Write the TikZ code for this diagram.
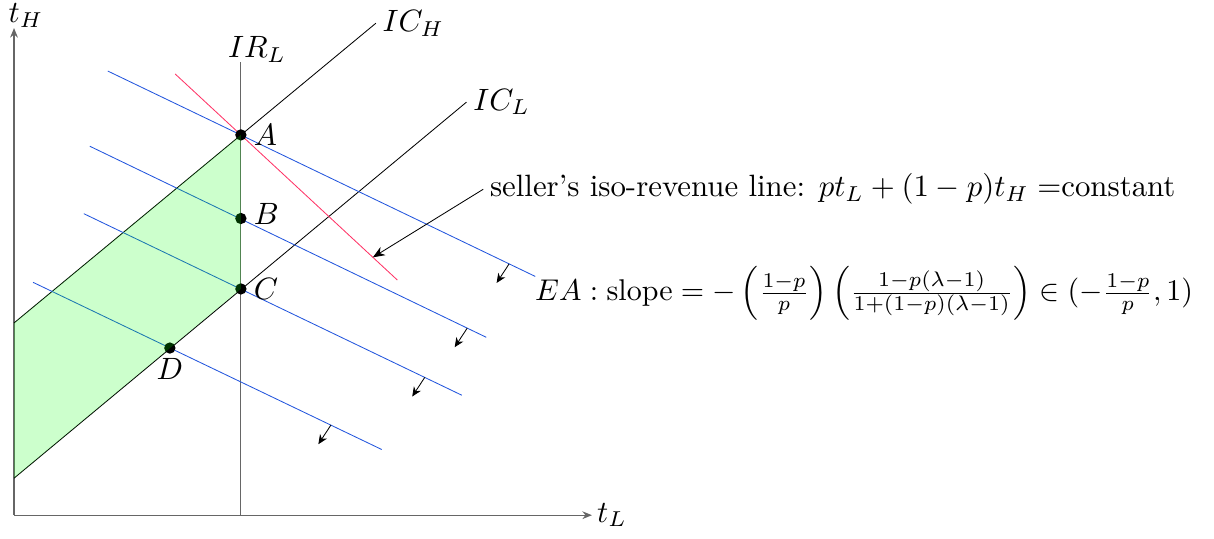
\documentclass[tikz,border=0pt]{standalone}
\usepackage{amsmath}
\usepackage{xcolor}
\usetikzlibrary{arrows.meta,positioning,calc}
\definecolor{IsoBlue}{HTML}{2255DD}
\definecolor{IsoRed}{HTML}{FF3366}
\definecolor{AxisGray}{HTML}{666666}

\begin{document}
\begin{tikzpicture}[
  lbl/.style={scale=1.47, transform shape},
  axis/.style={-{Stealth[length=1.6mm,width=1.3mm]}, AxisGray, semithick},
  icline/.style={black},
  irline/.style={AxisGray},
  isoline/.style={IsoBlue},
  revline/.style={IsoRed},
  shiftarrow/.style={-{Stealth[length=1.6mm,width=1.4mm]}, black},
  pointer/.style={-{Stealth[length=2mm,width=1.6mm]}, black},
  dot/.style={circle, fill=black, inner sep=0pt, minimum size=1.9mm}
]
  \useasboundingbox (-0.235,-0.385) rectangle (20.10,8.63);

  % axes
  \coordinate (O) at (0,0);
  \coordinate (xend) at (9.68,0);
  \coordinate (yend) at (0,8.16);
  \draw[axis] (O) -- (xend);
  \draw[axis] (O) -- (yend);
  \node[lbl, anchor=west, inner sep=1.5pt] (tl) at (xend) {$t_L$};
  \node[lbl, inner sep=1pt] (th) at (0.20,8.37) {$t_H$};

  % contract points
  \coordinate (A) at (3.8,6.37);
  \coordinate (B) at (3.8,4.97);
  \coordinate (C) at (3.8,3.79);
  \coordinate (D) at (2.61,2.80);

  % participation and incentive constraints
  \coordinate (irl0) at (3.8,0);
  \coordinate (irl1) at (3.8,7.59);
  \draw[irline] (irl0) -- (irl1);
  \node[lbl] (irlab) at (4.07,7.80) {$IR_L$};

  \coordinate (ich0) at (0,3.22);
  \coordinate (ich1) at (6.06,8.24);
  \draw[icline] (ich0) -- (ich1);
  \node[lbl, right, inner sep=2pt] (ichlab) at (ich1) {$IC_H$};

  \coordinate (icl0) at (0,0.62);
  \coordinate (icl1) at (7.58,6.92);
  \draw[icline] (icl0) -- (icl1);
  \node[lbl, right, inner sep=2pt] (icllab) at (icl1) {$IC_L$};

  % iso-revenue lines
  \coordinate (a0) at (1.57,7.44);
  \coordinate (a1) at (8.73,4.00);
  \coordinate (b0) at (1.27,6.18);
  \coordinate (b1) at (7.91,2.98);
  \coordinate (c0) at (1.17,5.05);
  \coordinate (c1) at (7.50,2.01);
  \coordinate (d0) at (0.32,3.90);
  \coordinate (d1) at (6.16,1.10);
  \draw[isoline] (a0) -- (a1) coordinate[pos=0.939] (m1);
  \draw[isoline] (b0) -- (b1) coordinate[pos=0.952] (m2);
  \draw[isoline] (c0) -- (c1) coordinate[pos=0.902] (m3);
  \draw[isoline] (d0) -- (d1) coordinate[pos=0.854] (m4);
  \foreach \m in {m1,m2,m3,m4}
    \draw[shiftarrow] (\m) -- ++(-0.21,-0.32);

  \coordinate (r0) at (2.70,7.39);
  \coordinate (r1) at (6.42,3.94);
  \draw[revline] (r0) -- (r1) coordinate[pos=0.89] (rmark);

  \node[dot] (pA) at (A) {};
  \node[dot] (pB) at (B) {};
  \node[dot] (pC) at (C) {};
  \node[dot] (pD) at (D) {};
  \node[lbl, right=0pt of pA, inner sep=2pt] (labA) {$A$};
  \node[lbl, right=0pt of pB, inner sep=2pt, yshift=1.5pt] (labB) {$B$};
  \node[lbl, right=0pt of pC, inner sep=2pt] (labC) {$C$};
  \node[lbl, below=-1pt of pD, inner sep=2pt] (labD) {$D$};

  % feasible set
  \fill[green, opacity=0.2] (ich0) -- (A) -- (C) -- (icl0) -- cycle;

  % annotations
  \node[lbl, anchor=west, inner sep=2pt] (iso) at (7.86,5.46) {seller's iso-revenue line: $pt_L+(1-p)t_H=$constant};
  \draw[pointer] (iso.west) -- (rmark);
  \node[scale=1.43, transform shape, anchor=west, inner sep=2pt] (ea) at (8.62,3.72)
    {$EA:\text{slope}=-\left(\frac{1-p}{p}\right)\left(\frac{1-p(\lambda-1)}{1+(1-p)(\lambda-1)}\right)\in(-\frac{1-p}{p},1)$};
\end{tikzpicture}
\end{document}
